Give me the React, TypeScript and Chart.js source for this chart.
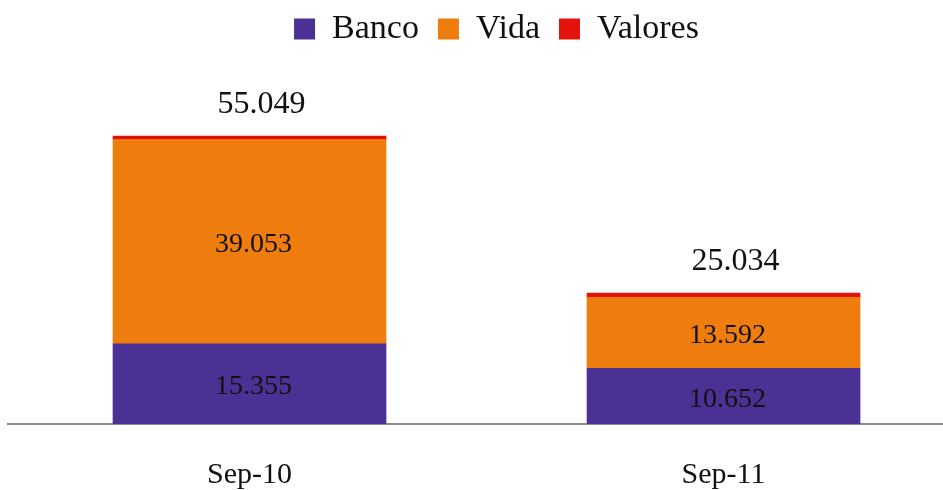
import React, { useEffect, useRef } from "react";
import { Chart, registerables } from "chart.js";

Chart.register(...registerables);

const categories = ["Sep-10", "Sep-11"];
const banco = [15355, 10652];
const vida = [39053, 13592];
const valores = [641, 790];
const totals = [55049, 25034];

const fmt = (v: number) => {
  const s = Math.round(v).toString();
  return s.replace(/\B(?=(\d{3})+(?!\d))/g, ".");
};

const FONT = "'Liberation Serif', 'DejaVu Serif', serif";

const labelPlugin = {
  id: "barLabels",
  afterLayout(chart: any) {
    const lg = chart.legend;
    if (lg) {
      lg.left += 21;
      lg.right += 21;
      lg.top -= 2;
      lg.bottom -= 2;
    }
  },
  afterDatasetsDraw(chart: any) {
    const ctx = chart.ctx;
    ctx.save();
    ctx.textAlign = "center";
    ctx.textBaseline = "middle";
    ctx.fillStyle = "#111";
    [0, 1].forEach((di) => {
      const meta = chart.getDatasetMeta(di);
      meta.data.forEach((el: any, i: number) => {
        const v = chart.data.datasets[di].data[i].y;
        const yc = (el.y + el.base) / 2;
        ctx.font = `28px ${FONT}`;
        ctx.fillText(fmt(v), el.x + 4, yc + 3);
      });
    });
    const topMeta = chart.getDatasetMeta(2);
    topMeta.data.forEach((el: any, i: number) => {
      ctx.font = `32px ${FONT}`;
      ctx.fillText(fmt(totals[i]), el.x + 12, el.y - 32);
    });
    ctx.restore();
  },
};

export default function App() {
  const ref = useRef<HTMLCanvasElement | null>(null);
  useEffect(() => {
    if (!ref.current) return;
    const mk = (arr: number[]) => arr.map((y, i) => ({ x: i, y }));
    const chart = new Chart(ref.current, {
      type: "bar",
      data: {
        datasets: [
          { label: "Banco", data: mk(banco), backgroundColor: "#4B3193", barThickness: 273 },
          { label: "Vida", data: mk(vida), backgroundColor: "#EE7D0E", barThickness: 273 },
          { label: "Valores", data: mk(valores), backgroundColor: "#E3120B", barThickness: 273 },
        ],
      } as any,
      options: {
        animation: false,
        responsive: false,
        maintainAspectRatio: false,
        layout: { padding: { left: 8, right: 0, top: -5, bottom: 0 } },
        plugins: {
          tooltip: { enabled: false },
          legend: {
            position: "top",
            labels: {
              boxWidth: 21,
              boxHeight: 21,
              padding: 19,
              color: "#111",
              font: { family: FONT, size: 34 },
            },
          },
        },
        scales: {
          x: {
            type: "linear",
            stacked: true,
            offset: false,
            bounds: "data",
            min: -0.5095,
            max: 1.463,
            grid: { display: false, drawTicks: false, offset: false },
            border: { display: true, color: "#8c8c8c", width: 2 },
            afterBuildTicks: (scale: any) => {
              scale.ticks = [{ value: 0 }, { value: 1 }];
            },
            afterFit: (scale: any) => {
              scale.height = 66;
            },
            ticks: {
              padding: 33,
              color: "#111",
              font: { family: FONT, size: 30 },
              callback: (v: any) => categories[Math.round(Number(v))] ?? "",
            },
          },
          y: {
            stacked: true,
            display: false,
            min: 0,
            max: 70000,
          },
        },
      } as any,
      plugins: [labelPlugin],
    });
    return () => chart.destroy();
  }, []);
  return (
    <div style={{ position: "absolute", left: 0, top: 0, width: 943, height: 490, background: "#fff" }}>
      <canvas ref={ref} width={943} height={490} style={{ width: 943, height: 490 }} />
    </div>
  );
}
